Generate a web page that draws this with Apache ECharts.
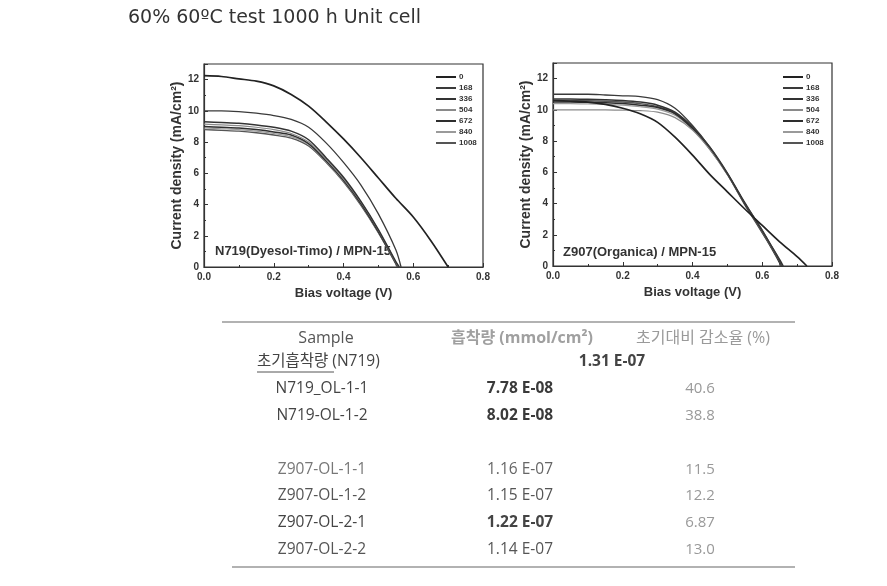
<!DOCTYPE html>
<html>
<head>
<meta charset="utf-8">
<script src="https://cdn.jsdelivr.net/npm/echarts@6/dist/echarts.min.js"></script>
<style>
html,body{margin:0;padding:0;background:#fff;}
#main{width:887px;height:586px;}
</style>
</head>
<body>
<div id="main"></div>
<script>
// ---------- DATA ----------
const titleText = '60% 60ºC test 1000 h Unit cell';
const hours = ['0', '168', '336', '504', '672', '840', '1008'];
const voltages = [0, 0.05, 0.1, 0.15, 0.2, 0.25, 0.3, 0.35, 0.4, 0.45, 0.5, 0.55, 0.6, 0.65, 0.7];

// N719 (Dyesol-Timo) / MPN-15 current density (mA/cm2)
const n719_0    = [12.25, 12.2, 12.05, 11.9, 11.6, 11.05, 10.3, 9.3, 8.2, 7.0, 5.7, 4.4, 3.2, 1.7];
const n719_168  = [10.0, 10.0, 9.95, 9.85, 9.7, 9.45, 8.95, 7.95, 6.7, 5.25, 3.4, 1.1];
const n719_336  = [9.3, 9.25, 9.2, 9.1, 8.95, 8.7, 8.15, 7.0, 5.75, 4.2, 2.4, 0.35];
const n719_504  = [9.15, 9.1, 9.05, 8.95, 8.8, 8.55, 8.0, 6.9, 5.65, 4.15, 2.35, 0.3];
const n719_672  = [9.0, 8.95, 8.9, 8.8, 8.65, 8.45, 7.9, 6.8, 5.55, 4.05, 2.25, 0.25];
const n719_840  = [8.9, 8.85, 8.8, 8.7, 8.55, 8.35, 7.85, 6.75, 5.5, 4.0, 2.2, 0.25];
const n719_1008 = [8.8, 8.75, 8.7, 8.6, 8.45, 8.25, 7.75, 6.7, 5.45, 3.95, 2.2, 0.2];
const n719_voc  = [0.70, 0.565, 0.56, 0.558, 0.556, 0.555, 0.553];

// Z907 (Organica) / MPN-15 current density (mA/cm2)
const z907_0    = [10.6, 10.55, 10.5, 10.35, 10.1, 9.75, 9.2, 8.25, 7.1, 5.85, 4.75, 3.65, 2.6, 1.55, 0.6];
const z907_168  = [11.0, 11.0, 11.0, 10.95, 10.9, 10.85, 10.65, 10.1, 9.0, 7.6, 5.9, 4.0, 2.3, 0.3];
const z907_336  = [10.7, 10.7, 10.68, 10.65, 10.6, 10.5, 10.3, 9.85, 8.9, 7.6, 5.95, 4.05, 2.25, 0.4];
const z907_504  = [10.0, 10.0, 10.0, 10.0, 9.98, 9.95, 9.85, 9.5, 8.7, 7.45, 5.85, 4.0, 2.2, 0.3];
const z907_672  = [10.5, 10.5, 10.48, 10.45, 10.4, 10.3, 10.15, 9.75, 8.8, 7.5, 5.9, 3.95, 2.15, 0.2];
const z907_840  = [10.4, 10.4, 10.38, 10.35, 10.3, 10.2, 10.05, 9.65, 8.75, 7.45, 5.85, 3.9, 2.1, 0.15];
const z907_1008 = [10.6, 10.6, 10.58, 10.55, 10.5, 10.4, 10.2, 9.8, 8.85, 7.55, 5.9, 4.0, 2.2, 0.3];
const z907_voc  = [0.728, 0.655, 0.66, 0.655, 0.652, 0.65, 0.655];

const chartLabels = ['N719(Dyesol-Timo) / MPN-15', 'Z907(Organica) / MPN-15'];
const xAxisTitle = 'Bias voltage (V)';
const yAxisTitle = 'Current density (mA/cm²)';

// Table
const tableHeaders = ['Sample', '흡착량 (mmol/cm²)', '초기대비 감소율 (%)'];
const initialLabel = '초기흡착량';
const initialSuffix = ' (N719)';
const initialValue = '1.31 E-07';
const sampleNames = ['N719_OL-1-1', 'N719-OL-1-2', 'Z907-OL-1-1', 'Z907-OL-1-2', 'Z907-OL-2-1', 'Z907-OL-2-2'];
const adsorption = ['7.78 E-08', '8.02 E-08', '1.16 E-07', '1.15 E-07', '1.22 E-07', '1.14 E-07'];
const decrease = ['40.6', '38.8', '11.5', '12.2', '6.87', '13.0'];

// ---------- STYLES ----------
const lineColors = ['#222', '#3a3a3a', '#333', '#8a8a8a', '#2e2e2e', '#9a9a9a', '#555'];
const lineWidths = [1.7, 1.3, 1.5, 1.2, 1.5, 1.2, 1.4];
const plotFont = '"Liberation Sans", Arial, sans-serif';
const tableFont = '"Open Sans", "Noto Sans CJK KR", sans-serif';
const titleFont = '"DejaVu Sans", "Open Sans", sans-serif';

function buildData(J, voc) {
  const pts = [];
  J.forEach((j, i) => { if (j != null) pts.push([voltages[i], j]); });
  pts.push([voc, 0]);
  return pts;
}

const leftSets = [n719_0, n719_168, n719_336, n719_504, n719_672, n719_840, n719_1008];
const rightSets = [z907_0, z907_168, z907_336, z907_504, z907_672, z907_840, z907_1008];

const series = [];
function addSeries(sets, vocs, gi) {
  sets.forEach((J, k) => series.push({
    type: 'line', name: hours[k], xAxisIndex: gi, yAxisIndex: gi,
    data: buildData(J, vocs[k]), symbol: 'none', smooth: 0.3,
    lineStyle: { color: lineColors[k], width: lineWidths[k] }, itemStyle: { color: lineColors[k] },
    z: 10 - k
  }));
}
addSeries(leftSets, n719_voc, 0);
addSeries(rightSets, z907_voc, 1);

function xAx(gi) {
  return {
    type: 'value', gridIndex: gi, min: 0, max: 0.8, interval: 0.2,
    name: xAxisTitle, nameLocation: 'middle', nameGap: 20,
    nameTextStyle: { fontFamily: plotFont, fontWeight: 'bold', fontSize: 13, color: '#333' },
    axisLine: { show: true, lineStyle: { color: '#333', width: 1.2 } },
    axisTick: { show: true, inside: true, length: 4, lineStyle: { color: '#333' } },
    minorTick: { show: true, splitNumber: 2, length: 2, lineStyle: { color: '#333' } },
    splitLine: { show: false },
    axisLabel: { fontFamily: plotFont, fontWeight: 'bold', fontSize: 10, color: '#333', margin: 5,
      formatter: v => v.toFixed(1) }
  };
}
function yAx(gi) {
  return {
    type: 'value', gridIndex: gi, min: 0, max: 13, interval: 2,
    name: yAxisTitle, nameLocation: 'middle', nameGap: 20, nameRotate: 90,
    nameTextStyle: { fontFamily: plotFont, fontWeight: 'bold', fontSize: 14, color: '#333' },
    axisLine: { show: true, lineStyle: { color: '#333', width: 1.2 } },
    axisTick: { show: true, inside: true, length: 4, lineStyle: { color: '#333' } },
    minorTick: { show: true, splitNumber: 2, length: 2, lineStyle: { color: '#333' } },
    splitLine: { show: false },
    axisLabel: { fontFamily: plotFont, fontWeight: 'bold', fontSize: 10, color: '#333', margin: 5,
      showMaxLabel: false }
  };
}

function legendAt(left) {
  return {
    orient: 'vertical', left: left, top: 68, data: hours,
    icon: 'rect', itemWidth: 20, itemHeight: 2, itemGap: 3,
    textStyle: { fontFamily: plotFont, fontWeight: 'bold', fontSize: 8, lineHeight: 8, color: '#333', padding: [0, 0, 0, -2] },
    selectedMode: false
  };
}

// ---------- TEXT / TABLE GRAPHICS ----------
const graphic = [];
graphic.push({ type: 'text', x: 128, y: 18,
  style: { text: titleText, font: '19px ' + titleFont, fill: '#333', textVerticalAlign: 'middle' } });

graphic.push({ type: 'text', x: 215, y: 251,
  style: { text: chartLabels[0], font: 'bold 13px ' + plotFont, fill: '#333', textVerticalAlign: 'middle' } });
graphic.push({ type: 'text', x: 563, y: 252,
  style: { text: chartLabels[1], font: 'bold 13px ' + plotFont, fill: '#333', textVerticalAlign: 'middle' } });

graphic.push({ type: 'line', shape: { x1: 222, y1: 322, x2: 795, y2: 322 }, style: { stroke: '#999', lineWidth: 1.3 } });
graphic.push({ type: 'line', shape: { x1: 232, y1: 567, x2: 795, y2: 567 }, style: { stroke: '#999', lineWidth: 1.3 } });

const headerX = [326, 522, 703];
const headerColors = ['#555', '#a0a0a0', '#9a9a9a'];
const headerWeights = ['normal', 'bold', 'normal'];
tableHeaders.forEach((h, i) => graphic.push({ type: 'text', x: headerX[i], y: 338,
  style: { text: h, font: headerWeights[i] + ' 16px ' + tableFont, fill: headerColors[i], textAlign: 'center', textVerticalAlign: 'middle' } }));

graphic.push({ type: 'text', x: 257, y: 362,
  style: { text: initialLabel + initialSuffix, font: '15.5px ' + tableFont, fill: '#444', textVerticalAlign: 'middle' } });
graphic.push({ type: 'line', shape: { x1: 257, y1: 372, x2: 334, y2: 372 }, style: { stroke: '#555', lineWidth: 1 } });
graphic.push({ type: 'text', x: 612, y: 362,
  style: { text: initialValue, font: 'bold 15.5px ' + tableFont, fill: '#444', textAlign: 'center', textVerticalAlign: 'middle' } });

const rowY = [389, 416, 470, 496, 523, 550];
const nameColors = ['#444', '#444', '#777', '#555', '#444', '#555'];
const valColors = ['#3a3a3a', '#3a3a3a', '#666', '#555', '#444', '#555'];
const valWeights = ['bold', 'bold', 'normal', 'normal', 'bold', 'normal'];
sampleNames.forEach((s, i) => {
  graphic.push({ type: 'text', x: 322, y: rowY[i],
    style: { text: s, font: '15.5px ' + tableFont, fill: nameColors[i], textAlign: 'center', textVerticalAlign: 'middle' } });
  graphic.push({ type: 'text', x: 520, y: rowY[i],
    style: { text: adsorption[i], font: valWeights[i] + ' 15.5px ' + tableFont, fill: valColors[i], textAlign: 'center', textVerticalAlign: 'middle' } });
  graphic.push({ type: 'text', x: 700, y: rowY[i],
    style: { text: decrease[i], font: '15px ' + tableFont, fill: '#999', textAlign: 'center', textVerticalAlign: 'middle' } });
});

const option = {
  backgroundColor: '#fff',
  animation: false,
  grid: [
    { left: 204, top: 64, width: 279, height: 203, show: true, borderColor: '#333', borderWidth: 1.2, backgroundColor: 'transparent' },
    { left: 553, top: 63, width: 279, height: 203, show: true, borderColor: '#333', borderWidth: 1.2, backgroundColor: 'transparent' }
  ],
  xAxis: [xAx(0), xAx(1)],
  yAxis: [yAx(0), yAx(1)],
  legend: [legendAt(431), legendAt(778)],
  series: series,
  graphic: graphic
};

const chart = echarts.init(document.getElementById('main'), null, { renderer: 'canvas' });
chart.setOption(option);
</script>
</body>
</html>
